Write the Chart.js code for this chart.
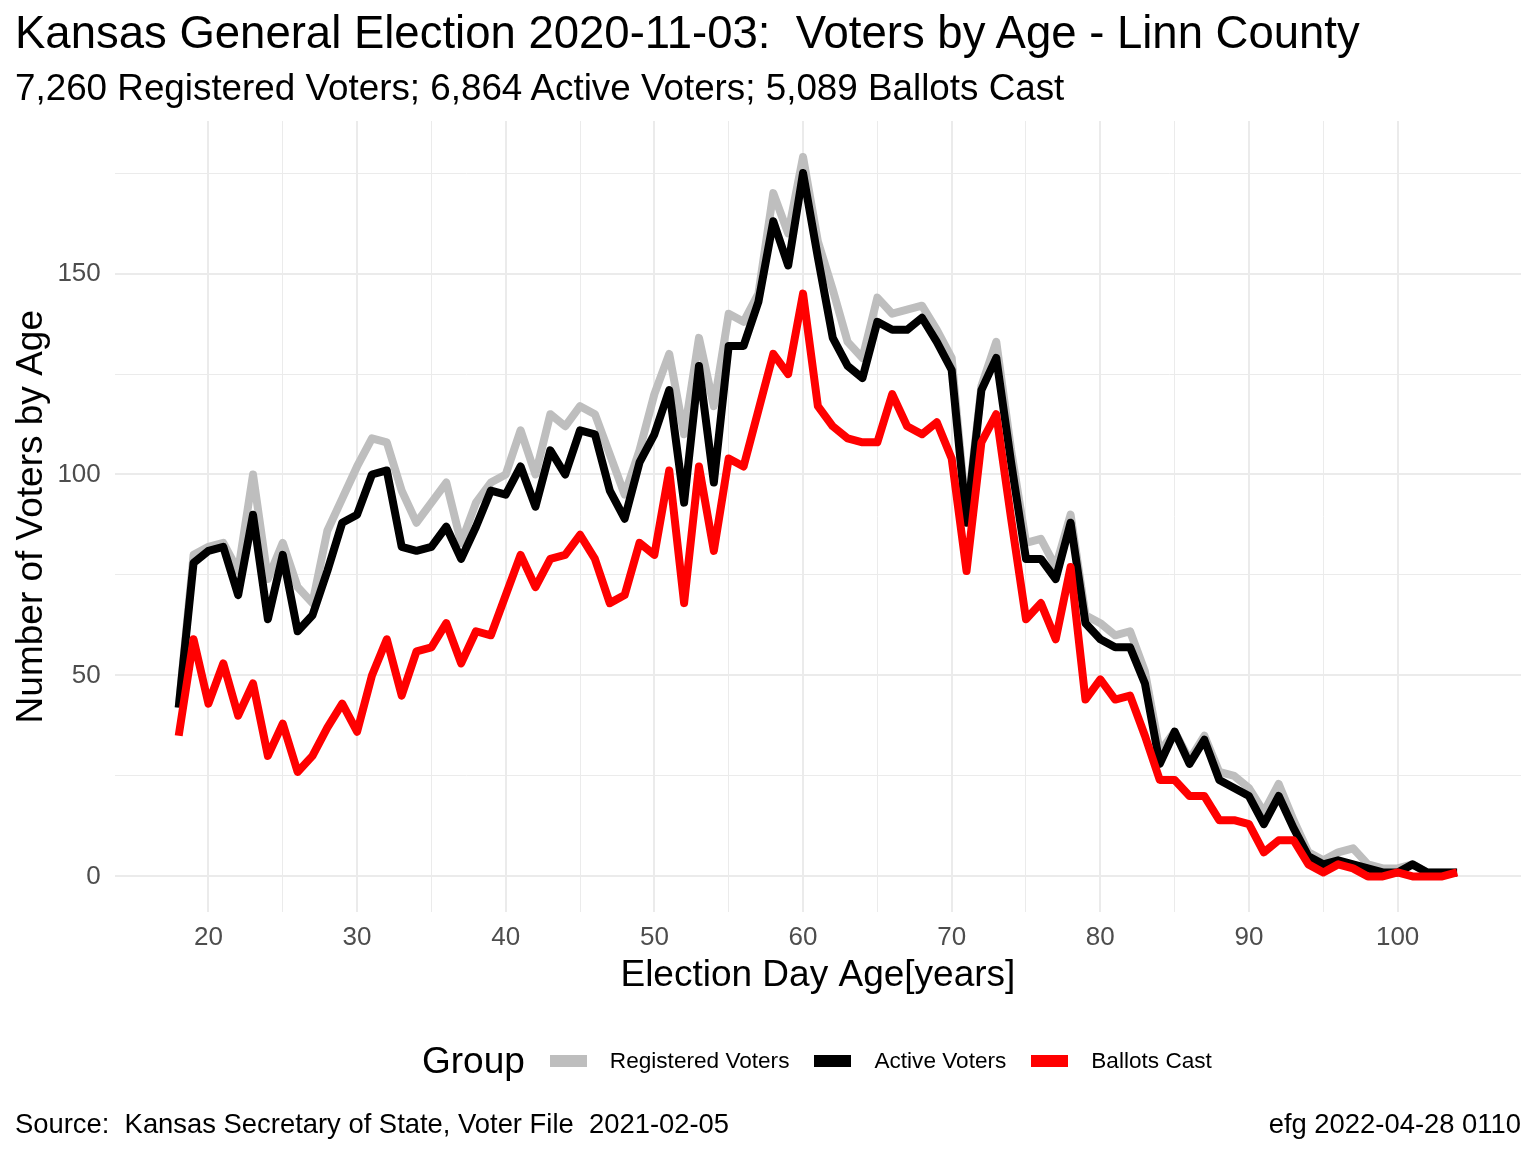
<!DOCTYPE html>
<html>
<head>
<meta charset="utf-8">
<title>Voters by Age - Linn County</title>
<script src="https://cdn.jsdelivr.net/npm/chart.js@4.4.1/dist/chart.umd.min.js"></script>
<style>
  html, body { margin: 0; padding: 0; background: #fff; }
  #wrap { position: relative; width: 1536px; height: 1152px; font-family: 'Liberation Sans', Arial, sans-serif; color: #000; }
  #chart { position: absolute; left: 0; top: 0; }
  .txt { position: absolute; white-space: nowrap; line-height: 1; }
  #title { left: 15px; top: 10px; font-size: 45.5px; }
  #subtitle { left: 15px; top: 70px; font-size: 36.8px; }
  #legend { position: absolute; top: 1043px; left: 422px; display: flex; align-items: center; height: 36px; }
  #legend .ltitle { font-size: 37px; margin-right: 25px; }
  #legend .key { width: 37px; height: 12px; margin-right: 23px; }
  #legend .lab { font-size: 22.6px; margin-right: 25px; }
  #capL { left: 15px; top: 1110px; font-size: 27.4px; }
  #capR { right: 15px; top: 1110px; font-size: 27.4px; }
</style>
</head>
<body>
<div id="wrap">
  <canvas id="chart" width="1536" height="1152"></canvas>
  <div class="txt" id="title">Kansas General Election 2020-11-03:&nbsp; Voters by Age - Linn County</div>
  <div class="txt" id="subtitle">7,260 Registered Voters; 6,864 Active Voters; 5,089 Ballots Cast</div>
  <div id="legend">
    <span class="ltitle">Group</span>
    <span class="key" style="background:#bebebe"></span><span class="lab">Registered Voters</span>
    <span class="key" style="background:#000000"></span><span class="lab">Active Voters</span>
    <span class="key" style="background:#ff0000"></span><span class="lab">Ballots Cast</span>
  </div>
  <div class="txt" id="capL">Source:&nbsp; Kansas Secretary of State, Voter File&nbsp; 2021-02-05</div>
  <div class="txt" id="capR">efg 2022-04-28 0110</div>
</div>
<script>
// Election day age, 18 .. 104
const ages = [
  18, 19, 20, 21, 22, 23, 24, 25, 26, 27, 28, 29, 30, 31, 32, 33, 34, 35, 36, 37,
  38, 39, 40, 41, 42, 43, 44, 45, 46, 47, 48, 49, 50, 51, 52, 53, 54, 55, 56, 57,
  58, 59, 60, 61, 62, 63, 64, 65, 66, 67, 68, 69, 70, 71, 72, 73, 74, 75, 76, 77,
  78, 79, 80, 81, 82, 83, 84, 85, 86, 87, 88, 89, 90, 91, 92, 93, 94, 95, 96, 97,
  98, 99, 100, 101, 102, 103, 104
];

const registered = [
  42, 80, 82, 83, 76, 100, 74, 83, 72, 68, 86, 94, 102, 109, 108, 96, 88, 93, 98, 83,
  93, 98, 100, 111, 100, 115, 112, 117, 115, 105, 95, 106, 120, 130, 110, 134, 117, 140, 138, 145,
  170, 160, 179, 158, 146, 133, 129, 144, 140, 141, 142, 136, 129, 89, 122, 133, 106, 83, 84, 77,
  90, 65, 63, 60, 61, 51, 31, 36, 29, 35, 26, 25, 22, 16, 23, 14, 6, 4, 6, 7,
  3, 2, 2, 3, 1, 1, 1
];

const active = [
  42, 78, 81, 82, 70, 90, 64, 80, 61, 65, 76, 88, 90, 100, 101, 82, 81, 82, 87, 79,
  87, 96, 95, 102, 92, 106, 100, 111, 110, 96, 89, 103, 110, 121, 93, 127, 98, 132, 132, 143,
  163, 152, 175, 154, 134, 127, 124, 138, 136, 136, 139, 133, 126, 88, 121, 129, 103, 79, 79, 74,
  88, 63, 59, 57, 57, 48, 28, 36, 28, 34, 24, 22, 20, 13, 20, 12, 5, 3, 4, 3,
  2, 1, 1, 3, 1, 1, 1
];

const ballots = [
  35, 59, 43, 53, 40, 48, 30, 38, 26, 30, 37, 43, 36, 50, 59, 45, 56, 57, 63, 53,
  61, 60, 70, 80, 72, 79, 80, 85, 79, 68, 70, 83, 80, 101, 68, 102, 81, 104, 102, 116,
  130, 125, 145, 117, 112, 109, 108, 108, 120, 112, 110, 113, 104, 76, 108, 115, 89, 64, 68, 59,
  77, 44, 49, 44, 45, 35, 24, 24, 20, 20, 14, 14, 13, 6, 9, 9, 3, 1, 3, 2,
  0, 0, 1, 0, 0, 0, 1
];

const xTicks = [20, 30, 40, 50, 60, 70, 80, 90, 100];
const yTicks = [0, 50, 100, 150];

const FONT = "'Liberation Sans', Arial, sans-serif";
const GRID = '#ebebeb';

function toPoints(values) {
  return ages.map((a, i) => ({ x: a, y: values[i] }));
}

function lineSet(label, values, color, order) {
  return {
    label,
    data: toPoints(values),
    borderColor: color,
    backgroundColor: color,
    borderWidth: 8,
    borderJoinStyle: 'round',
    borderCapStyle: 'butt',
    pointRadius: 0,
    tension: 0,
    fill: false,
    order,
  };
}

// ggplot-style 5% expansion of the data range
const xMin = Math.min(...ages), xMax = Math.max(...ages);
const yTop = Math.max(...registered);
const xPad = (xMax - xMin) * 0.05, yPad = yTop * 0.05;

function keepMultiples(step) {
  return (scale) => {
    scale.ticks = scale.ticks.filter(t => Math.abs(t.value / step - Math.round(t.value / step)) < 1e-6);
  };
}

new Chart(document.getElementById('chart'), {
  type: 'line',
  data: {
    datasets: [
      lineSet('Registered Voters', registered, '#bebebe', 3),
      lineSet('Active Voters', active, '#000000', 2),
      lineSet('Ballots Cast', ballots, '#ff0000', 1),
    ],
  },
  options: {
    responsive: false,
    animation: false,
    layout: { padding: { top: 121, left: 6, right: 15, bottom: 154 } },
    plugins: {
      legend: { display: false },
      tooltip: { enabled: false },
    },
    scales: {
      x: {
        type: 'linear',
        min: xMin - xPad,
        max: xMax + xPad,
        afterBuildTicks: keepMultiples(5),
        border: { display: false },
        grid: {
          color: GRID,
          lineWidth: (c) => xTicks.includes(c.tick.value) ? 2 : 1,
          drawTicks: false,
        },
        ticks: {
          stepSize: 5,
          autoSkip: false,
          maxRotation: 0,
          padding: 10,
          color: '#4d4d4d',
          font: { family: FONT, size: 26 },
          callback: (v) => xTicks.includes(v) ? String(v) : '',
        },
        title: {
          display: true,
          text: 'Election Day Age[years]',
          color: '#000',
          font: { family: FONT, size: 37 },
          padding: { top: -10, bottom: 0 },
        },
      },
      y: {
        type: 'linear',
        min: -yPad,
        max: yTop + yPad,
        afterBuildTicks: keepMultiples(25),
        border: { display: false },
        grid: {
          color: GRID,
          lineWidth: (c) => yTicks.includes(c.tick.value) ? 2 : 1,
          drawTicks: false,
        },
        ticks: {
          stepSize: 25,
          autoSkip: false,
          padding: 14,
          color: '#4d4d4d',
          font: { family: FONT, size: 26 },
          callback: (v) => yTicks.includes(v) ? String(v) : '',
        },
        title: {
          display: true,
          text: 'Number of Voters by Age',
          color: '#000',
          font: { family: FONT, size: 37 },
          padding: { top: 4, bottom: -11 },
        },
      },
    },
  },
});
</script>
</body>
</html>
